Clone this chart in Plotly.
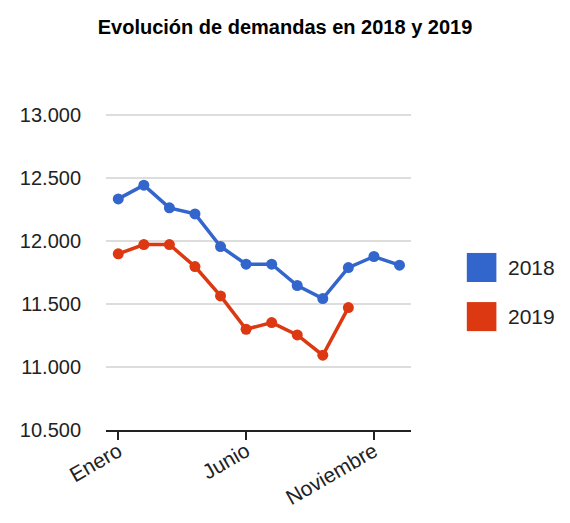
import plotly.graph_objects as go

meses = ["Enero", "Febrero", "Marzo", "Abril", "Mayo", "Junio", "Julio",
         "Agosto", "Septiembre", "Octubre", "Noviembre", "Diciembre"]
demandas_2018 = [12333, 12442, 12262, 12214, 11955, 11815, 11815,
                 11646, 11542, 11788, 11876, 11807]
demandas_2019 = [11897, 11971, 11971, 11796, 11563, 11299, 11352,
                 11254, 11093, 11471]
meses_visibles = ["Enero", "Junio", "Noviembre"]

series = [("2018", demandas_2018, "#3366CC"), ("2019", demandas_2019, "#DC3912")]

fig = go.Figure()
for nombre, valores, color in series:
    fig.add_trace(go.Scatter(
        x=meses[:len(valores)], y=valores,
        mode="lines+markers",
        name=nombre,
        line=dict(color=color, width=3.5),
        marker=dict(color=color, size=11),
        showlegend=False,
    ))

# leyenda con cuadrados grandes, estilo Google Charts
# (el área del gráfico mide 310 x 319 px)
for i, (nombre, _, color) in enumerate(series):
    y0 = 0.464 - i * 0.154
    fig.add_shape(type="rect", xref="paper", yref="paper",
                  x0=1.183, x1=1.280, y0=y0, y1=y0 + 0.091,
                  fillcolor=color, line=dict(width=0))
    fig.add_annotation(xref="paper", yref="paper", x=1.31, y=y0 + 0.045,
                       text=nombre, showarrow=False, xanchor="left",
                       font=dict(size=21, color="#222"))

fig.update_layout(
    title=dict(text="<b>Evolución de demandas en 2018 y 2019</b>",
               x=0.486, xref="container", xanchor="center",
               y=0.964, yref="container", yanchor="middle",
               font=dict(size=20, color="#000")),
    width=570, height=523,
    margin=dict(l=93, r=167, t=103, b=101),
    paper_bgcolor="white", plot_bgcolor="white",
    separators=",.",
    font=dict(family="Arial, Liberation Sans, sans-serif", color="#222"),
)
fig.update_xaxes(
    type="category", categoryorder="array", categoryarray=meses,
    range=[-0.48, 11.45],
    tickvals=meses_visibles, ticktext=meses_visibles,
    tickangle=-30, tickfont=dict(size=21), ticklabelstandoff=-9,
    ticks="outside", ticklen=8, tickwidth=2, tickcolor="#222",
    showline=True, linecolor="#222", linewidth=2,
    showgrid=False, zeroline=False,
)
fig.update_yaxes(
    range=[10500, 13030], dtick=500, tickformat=",d",
    tickfont=dict(size=20), ticklabelstandoff=24,
    showgrid=True, gridcolor="#ddd", gridwidth=1.5,
    zeroline=False, showline=False,
)

fig.write_html("out.html")
